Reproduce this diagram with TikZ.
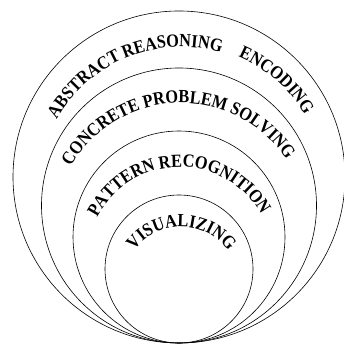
\documentclass[tikz,border=0pt]{standalone}
\usepackage{fontspec}
\usetikzlibrary{decorations.text}
\newfontfamily\ringfont[FakeStretch=0.88]{Liberation Serif}
\newcommand\lblfont{\ringfont\bfseries\fontsize{18.5}{21}\selectfont}

\begin{document}
\begin{tikzpicture}[x=1pt,y=1pt,
  ring/.style={draw,line width=0.6pt},
  lbl/.style={decorate,decoration={text along path,text align=center,text={#1}}}]
\lblfont
\useasboundingbox (0,0) rectangle (344,344);
\coordinate (tip) at (179,1);
% nested levels, all touching at the bottom
\draw[ring] (tip) ++(0,166) circle[radius=166];
\draw[ring] (tip) ++(0,137.5) circle[radius=137.5];
\draw[ring] (tip) ++(0,106) circle[radius=106];
\draw[ring] (tip) ++(0,74) circle[radius=74];
% labels on arcs
\coordinate (ca) at (181,154);
\coordinate (cb) at (181,114);
\coordinate (cc) at (180,84);
\coordinate (cd) at (181,58);
\path[lbl={ABSTRACT REASONING}] (ca) ++(182:143) arc[start angle=182,end angle=42,radius=143];
\path[lbl={ENCODING}] (ca) ++(119:145) arc[start angle=119,end angle=-21,radius=145];
\path[lbl={CONCRETE PROBLEM SOLVING}] (cb) ++(172:127) arc[start angle=172,end angle=12,radius=127];
\path[lbl={PATTERN RECOGNITION}] (cc) ++(171:93) arc[start angle=171,end angle=11,radius=93];
\path[lbl={VISUALIZING}] (cd) ++(180:59) arc[start angle=180,end angle=-1,radius=59];
\end{tikzpicture}
\end{document}
